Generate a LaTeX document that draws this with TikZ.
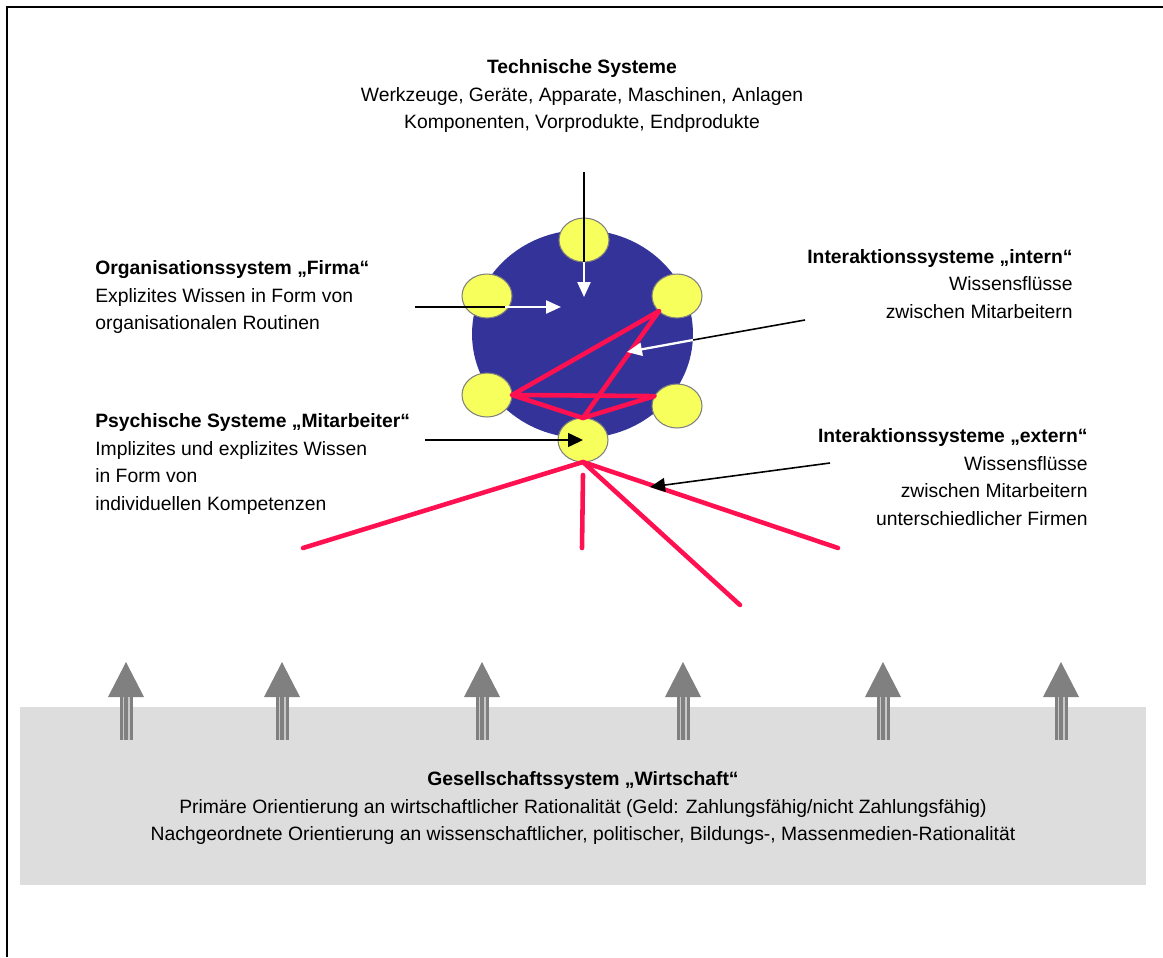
\documentclass[tikz,border=0pt]{standalone}
\usepackage{fontspec}
\setmainfont{Liberation Sans}
\usetikzlibrary{positioning}
\usetikzlibrary{arrows.meta}
\usetikzlibrary{calc}
\usetikzlibrary{shapes.geometric}

\definecolor{firmablau}{HTML}{333399}
\definecolor{mitgelb}{HTML}{F7FF5C}
\definecolor{flussrot}{HTML}{FF1050}
\definecolor{umfeldgrau}{HTML}{DDDDDD}
\definecolor{pfeilgrau}{HTML}{808080}
\definecolor{streifgrau}{HTML}{C8C8C8}

\begin{document}
\begin{tikzpicture}[x=0.02cm, y=-0.02cm,
        txt/.style={inner sep=0pt, font=\fontsize{11}{15.7}\selectfont},
        person/.style={ellipse, fill=mitgelb, draw=pfeilgrau, line width=0.6pt,
            minimum width=1cm, minimum height=0.88cm, inner sep=0pt, outer sep=0pt},
        fluss/.style={flussrot, line width=2.6pt, line cap=round, line join=round},
        zeiger/.style={black, line width=0.9pt},
        zeigerpfeil/.style={zeiger, -{Triangle[length=0.3cm, width=0.28cm]}},
        weisspfeil/.style={white, line width=1.3pt, -{Triangle[length=0.3cm, width=0.26cm]}}]
        \useasboundingbox (0,0) rectangle (1163,957);
        \draw[line width=1.6pt] (1163,7) -- (7,7) -- (7,957);

        % Gesellschaftssystem
        \node[fill=umfeldgrau, minimum width=22.52cm, minimum height=3.56cm, inner sep=0pt, name=wirtschaft] at (583,796) {};
        \foreach \x in {126,282,482,683,883,1061} {
            \fill[pfeilgrau] (\x-18,697) -- (\x,662) -- (\x+18,697) -- cycle;
            \fill[pfeilgrau] (\x-6.5,697) rectangle (\x+6.5,740);
            \draw[streifgrau, line width=0.035cm] (\x-2.5,697) -- (\x-2.5,740) (\x+3,697) -- (\x+3,740);
        }
        \node[txt, align=center, name=wirtschafttext] at (583,808) {\textbf{Gesellschaftssystem „Wirtschaft“}\\
            Primäre Orientierung an wirtschaftlicher Rationalität (Geld: Zahlungsfähig/nicht Zahlungsfähig)\\
            Nachgeordnete Orientierung an wissenschaftlicher, politischer, Bildungs-, Massenmedien-Rationalität};

        % Firma mit Mitarbeitern
        \node[ellipse, fill=firmablau, minimum width=4.42cm, minimum height=4.16cm, inner sep=0pt, name=firma] at (582.5,334) {};
        \node[person, name=mtop] at (584,240) {};
        \node[person, name=mol] at (487,296) {};
        \node[person, name=mor] at (677,296) {};
        \node[person, name=mul] at (487,395) {};
        \node[person, name=mur] at (677,406) {};
        \node[person, name=mbot] at (583,440) {};

        \draw[fluss] (mor.220) -- (mul.east) -- (mur.156) -- (mbot.north) -- (mul.east);
        \draw[fluss] (mor.220) -- (mbot.north);

        \coordinate (strahlL) at (303,548);
        \coordinate (strahlM) at (582,548);
        \coordinate (strahlD) at (740,605);
        \coordinate (strahlR) at (838,548);
        \draw[fluss] (strahlL) -- (mbot.south) -- (strahlR);
        \draw[fluss] (mbot.south) -- (strahlD);
        \draw[fluss] ($(mbot.south)+(0,13)$) -- (strahlM);

        % Texte
        \node[txt, align=center, name=technik] at (582,96) {\textbf{Technische Systeme}\\
            Werkzeuge, Geräte, Apparate, Maschinen, Anlagen\\
            Komponenten, Vorprodukte, Endprodukte};
        \node[txt, align=left, anchor=west, name=firmatext] at (95,297) {\textbf{Organisationssystem „Firma“}\\
            Explizites Wissen in Form von\\
            organisationalen Routinen};
        \node[txt, align=right, anchor=east, name=interntext] at (1073,284) {\textbf{Interaktionssysteme „intern“}\\
            Wissensflüsse\\
            zwischen Mitarbeitern};
        \node[txt, align=left, anchor=west, name=mittext] at (95,464) {\textbf{Psychische Systeme „Mitarbeiter“}\\
            Implizites und explizites Wissen\\
            in Form von\\
            individuellen Kompetenzen};
        \node[txt, align=right, anchor=east, name=externtext] at (1088,477) {\textbf{Interaktionssysteme „extern“}\\
            Wissensflüsse\\
            zwischen Mitarbeitern\\
            unterschiedlicher Firmen};

        % Zeiger
        \coordinate (techstart) at (584,172);
        \coordinate (techziel) at (584,297);
        \draw[zeiger] (techstart) -- (mtop.south);
        \draw[weisspfeil] (mtop.south) -- (techziel);

        \coordinate (firmastart) at (415,307);
        \coordinate (firmaknick) at (505,307);
        \coordinate (firmaziel) at (561,307);
        \draw[zeiger] (firmastart) -- (firmaknick);
        \draw[weisspfeil] (firmaknick) -- (firmaziel);

        \coordinate (internstart) at (805,320);
        \coordinate (internknick) at (693,340);
        \coordinate (internziel) at (627,352);
        \draw[zeiger] (internstart) -- (internknick);
        \draw[weisspfeil] (internknick) -- (internziel);

        \coordinate (mitstart) at (425,440);
        \draw[zeigerpfeil] (mitstart) -- (mbot.center);

        \coordinate (externstart) at (830,463);
        \coordinate (externziel) at (650,487);
        \draw[zeigerpfeil] (externstart) -- (externziel);
    \end{tikzpicture}
\end{document}
